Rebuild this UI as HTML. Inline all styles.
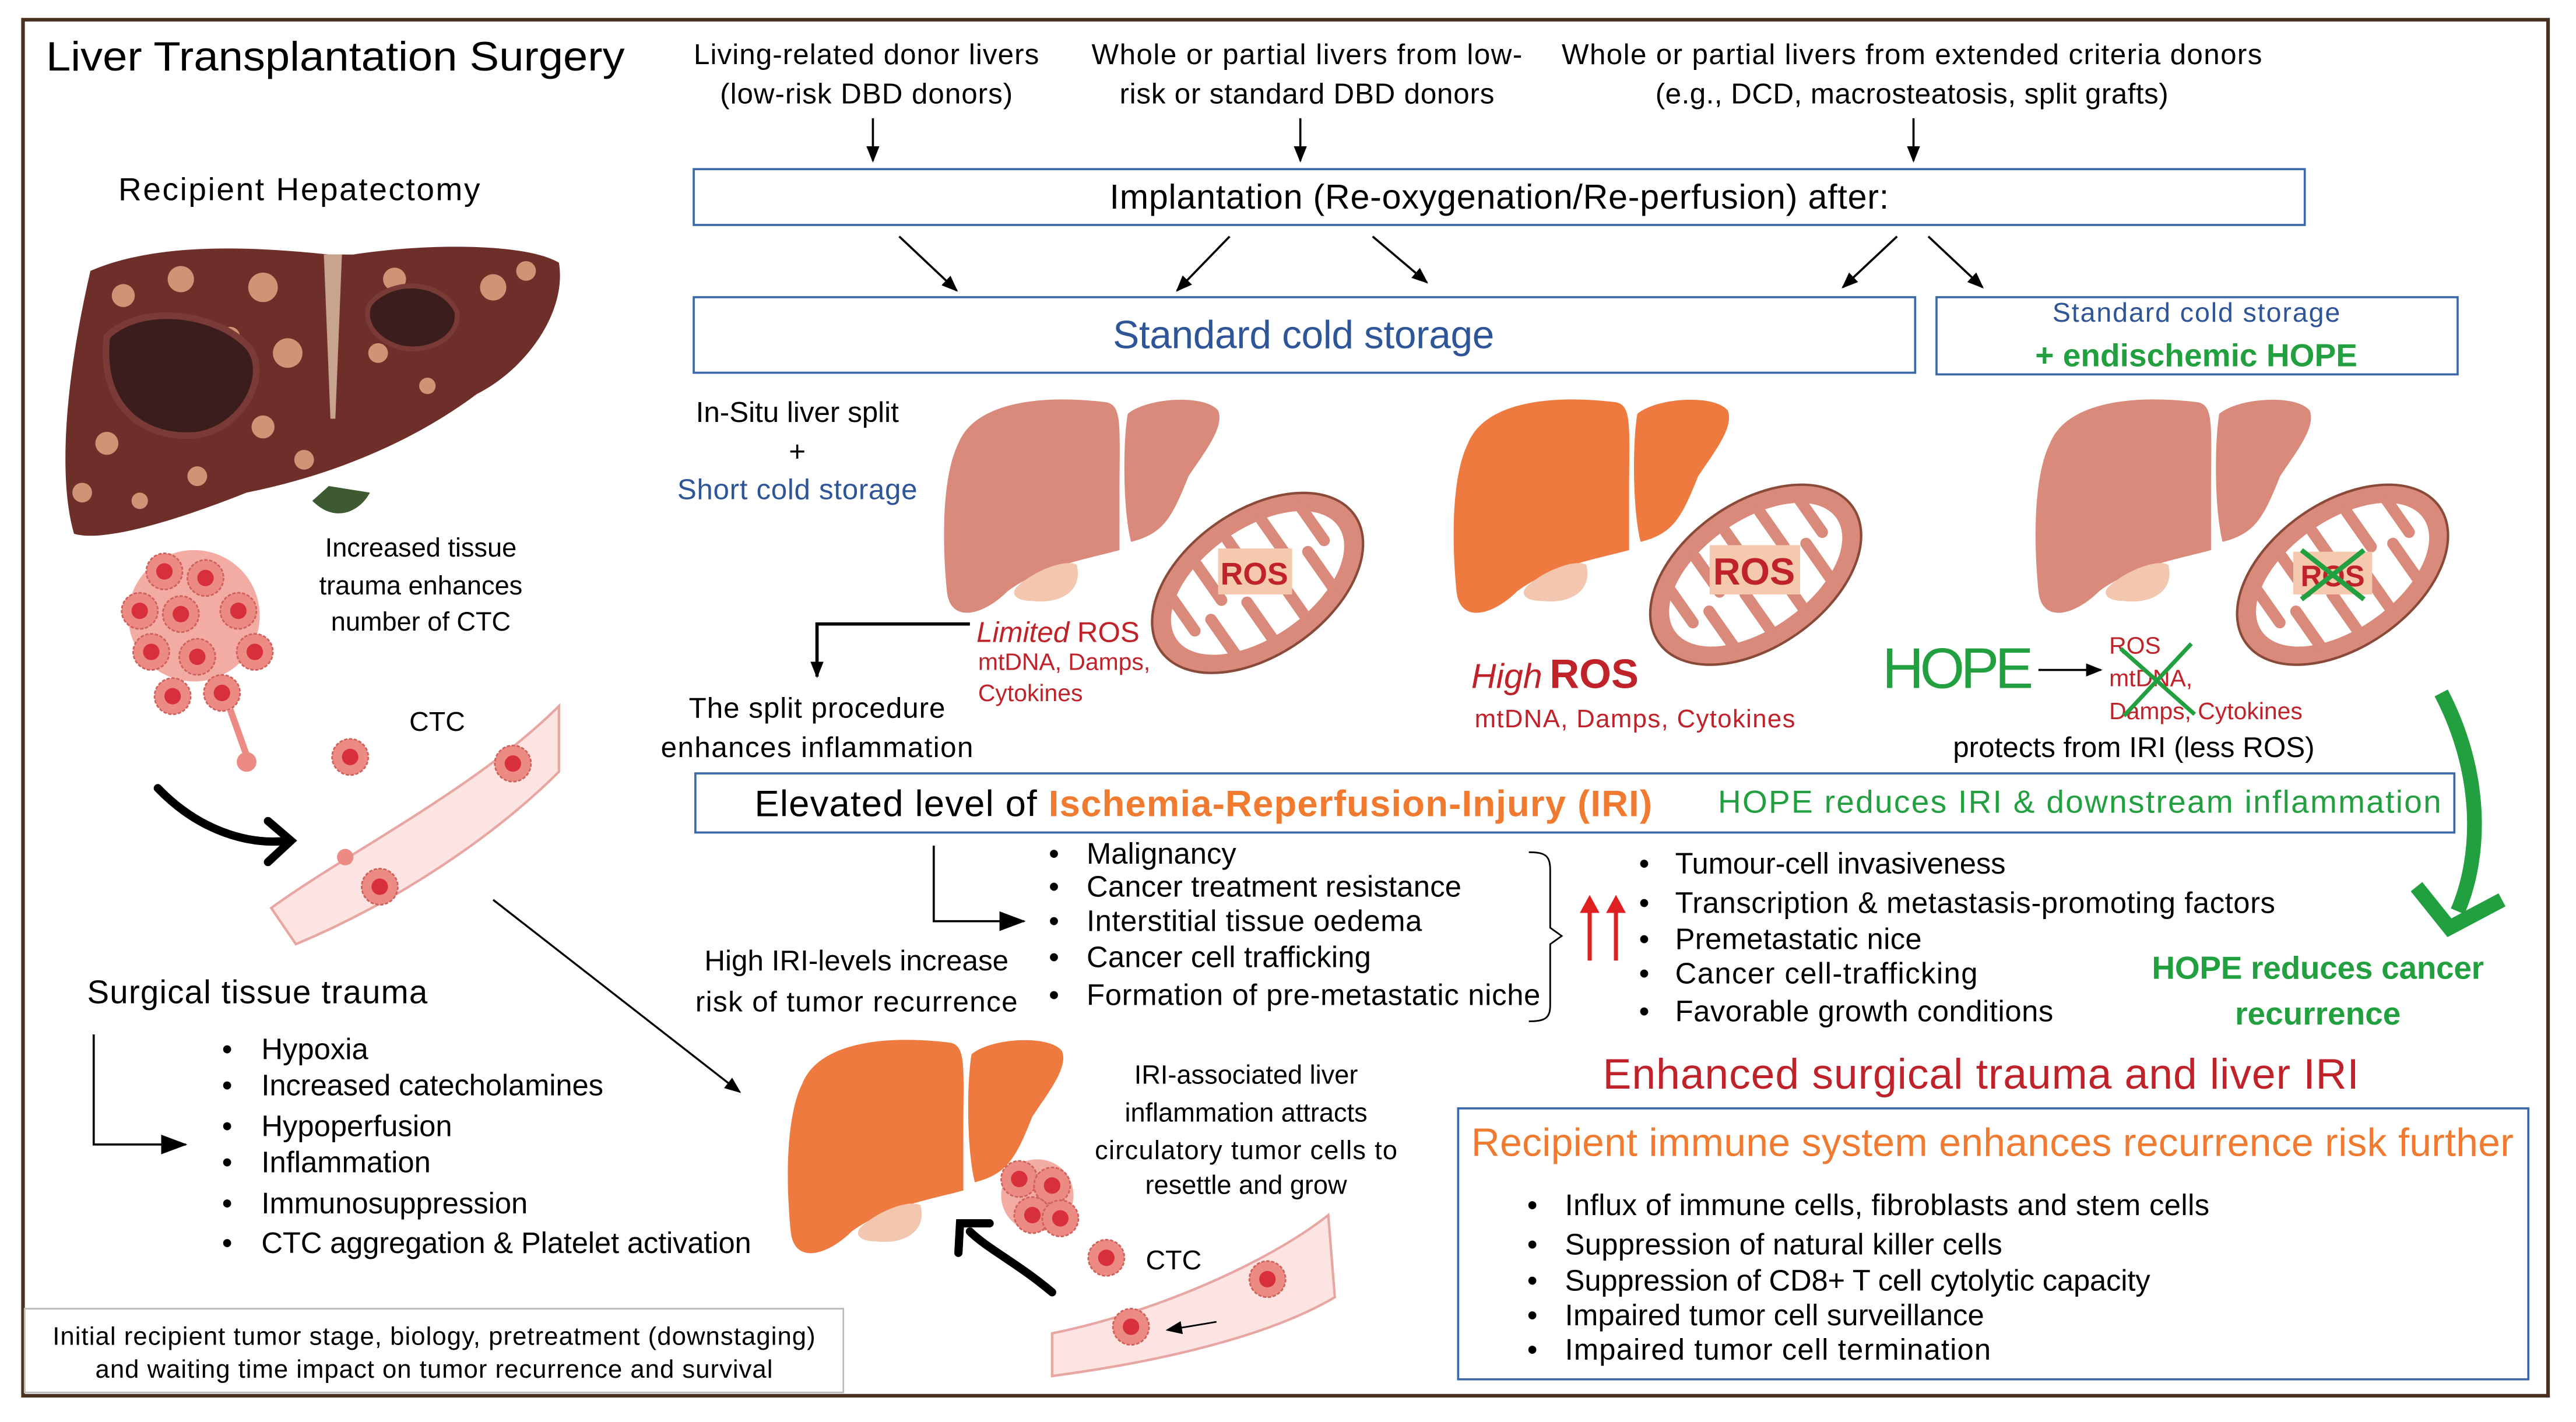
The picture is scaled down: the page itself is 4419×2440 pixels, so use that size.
<!DOCTYPE html>
<html><head><meta charset="utf-8"><style>
html,body{margin:0;padding:0;background:#fff;width:4419px;height:2440px;overflow:hidden}
svg{display:block}
text{font-family:"Liberation Sans",sans-serif}
</style></head><body>
<svg width="4419" height="2440" viewBox="0 0 1567 866" preserveAspectRatio="none" xmlns="http://www.w3.org/2000/svg">
<defs>
<marker id="ah" markerWidth="10" markerHeight="8" refX="9" refY="4" orient="auto" markerUnits="userSpaceOnUse"><path d="M0,0 L10,4 L0,8Z" fill="#000"/></marker>
<marker id="ahb" markerWidth="16" markerHeight="12" refX="15" refY="6" orient="auto" markerUnits="userSpaceOnUse"><path d="M0,0 L16,6 L0,12Z" fill="#000"/></marker>
<g id="liver">
<path d="M10,30 C20,5 60,0 100,5 C110,7 108,20 108,60 L108,95 C90,100 60,105 40,120 C25,135 5,140 3,120 C0,90 0,50 10,30 Z"/>
<path d="M113,12 C125,2 160,0 168,10 C172,20 160,35 150,50 C140,75 135,85 115,90 C110,70 110,30 113,12Z"/>
</g>
<g id="gb"><path d="M45,118 C55,108 75,100 82,104 C86,120 72,128 55,126 C45,126 42,122 45,118 Z" fill="#f3c6b0"/></g>
<g id="mito">
<ellipse cx="0" cy="0" rx="72" ry="44" fill="#d98a7a" stroke="#8a4a3a" stroke-width="1.5"/>
<ellipse cx="0" cy="0" rx="60" ry="33" fill="#fff"/>
<g stroke="#d98a7a" stroke-width="7" stroke-linecap="round">
<line x1="-48" y1="-22" x2="-48" y2="2"/><line x1="-36" y1="28" x2="-36" y2="2"/><line x1="-24" y1="-30" x2="-24" y2="-4"/><line x1="-12" y1="32" x2="-12" y2="6"/><line x1="0" y1="-32" x2="0" y2="-6"/><line x1="12" y1="32" x2="12" y2="6"/><line x1="24" y1="-30" x2="24" y2="-4"/><line x1="36" y1="28" x2="36" y2="2"/><line x1="48" y1="-22" x2="48" y2="2"/>
</g>
</g>
<g id="cell"><circle r="11" fill="#ec8a84" stroke="#d0605a" stroke-width="1" stroke-dasharray="2 1"/><circle r="5" fill="#d8303a"/></g>
</defs>
<rect x="14" y="12" width="1536" height="838" fill="none" stroke="#4a3020" stroke-width="2.2"/>
<text x="28" y="43" font-size="25" textLength="352" lengthAdjust="spacingAndGlyphs">Liver Transplantation Surgery</text>
<g font-size="17.5" text-anchor="middle">
<text x="527" y="39" textLength="210">Living-related donor livers</text><text x="527" y="63" textLength="178">(low-risk DBD donors)</text>
<text x="795" y="39" textLength="262">Whole or partial livers from low-</text><text x="795" y="63" textLength="228">risk or standard DBD donors</text>
<text x="1163" y="39" textLength="426">Whole or partial livers from extended criteria donors</text><text x="1163" y="63" textLength="312">(e.g., DCD, macrosteatosis, split grafts)</text>
</g>
<g stroke="#000" stroke-width="1.3" marker-end="url(#ah)">
<line x1="531" y1="72" x2="531" y2="98"/><line x1="791" y1="72" x2="791" y2="98"/><line x1="1164" y1="72" x2="1164" y2="98"/>
<line x1="547" y1="144" x2="582" y2="177"/><line x1="748" y1="144" x2="716" y2="177"/><line x1="835" y1="144" x2="868" y2="172"/><line x1="1154" y1="144" x2="1121" y2="175"/><line x1="1173" y1="144" x2="1206" y2="175"/>
</g>
<rect x="422" y="103" width="980" height="34" fill="none" stroke="#3b68a8" stroke-width="1.3"/>
<text x="912" y="127" font-size="21" text-anchor="middle" textLength="474">Implantation (Re-oxygenation/Re-perfusion) after:</text>
<rect x="422" y="181" width="743" height="46" fill="none" stroke="#3b68a8" stroke-width="1.3"/>
<text x="793" y="212" font-size="24" fill="#2e5597" text-anchor="middle" textLength="232">Standard cold storage</text>
<rect x="1178" y="181" width="317" height="47" fill="none" stroke="#3b68a8" stroke-width="1.3"/>
<text x="1336" y="196" font-size="16.5" fill="#2e5597" text-anchor="middle" textLength="175">Standard cold storage</text>
<text x="1336" y="223" font-size="19.5" fill="#22a040" font-weight="bold" text-anchor="middle" textLength="196">+ endischemic HOPE</text>
<text x="182" y="122" font-size="19.5" text-anchor="middle" textLength="220">Recipient Hepatectomy</text>
<!-- tumor liver -->
<path d="M55,165 C100,145 170,152 200,155 L215,155 C260,148 320,148 340,160 C345,190 320,225 290,240 C250,270 200,290 150,300 C100,320 60,330 45,325 C35,290 40,230 55,165Z" fill="#6e2f2a"/>
<path d="M190,305 C205,320 220,310 225,300 L200,296Z" fill="#3d5a30"/>
<path d="M197,155 L208,155 L204,255 L201,255Z" fill="#c8a48e"/>
<g fill="#d9a07e" opacity="0.9">
<circle cx="75" cy="180" r="7"/><circle cx="110" cy="170" r="8"/><circle cx="160" cy="175" r="9"/><circle cx="90" cy="230" r="6"/><circle cx="175" cy="215" r="9"/><circle cx="65" cy="270" r="7"/><circle cx="120" cy="290" r="6"/><circle cx="160" cy="260" r="7"/><circle cx="240" cy="170" r="7"/><circle cx="300" cy="175" r="8"/><circle cx="230" cy="215" r="6"/><circle cx="320" cy="165" r="6"/><circle cx="260" cy="235" r="5"/><circle cx="185" cy="280" r="6"/><circle cx="140" cy="205" r="6"/><circle cx="50" cy="300" r="6"/><circle cx="85" cy="305" r="5"/>
</g>
<path d="M65,205 C85,185 130,190 150,210 C165,225 150,260 120,265 C90,268 60,250 65,205Z" fill="#3a1d1c" stroke="#7a3a36" stroke-width="4"/>
<path d="M225,185 C240,168 270,172 278,190 C280,205 262,215 245,212 C228,208 220,195 225,185Z" fill="#3a1d1c" stroke="#7a3a36" stroke-width="3"/>
<!-- tumor cluster -->
<g>
<circle cx="118" cy="375" r="40" fill="#f2aca4"/>
<use href="#cell" x="100" y="348"/><use href="#cell" x="125" y="352"/><use href="#cell" x="145" y="372"/><use href="#cell" x="110" y="374"/><use href="#cell" x="92" y="397"/><use href="#cell" x="120" y="400"/><use href="#cell" x="135" y="422"/><use href="#cell" x="105" y="424"/><use href="#cell" x="155" y="397"/><use href="#cell" x="85" y="372"/>
<circle cx="150" cy="464" r="6" fill="#ec8a84"/><path d="M140,432 L150,460" stroke="#ec8a84" stroke-width="4"/>
</g>
<g font-size="16" text-anchor="middle"><text x="256" y="339">Increased tissue</text><text x="256" y="362">trauma enhances</text><text x="256" y="384">number of CTC</text></g>
<text x="249" y="445" font-size="16.5">CTC</text>
<use href="#cell" x="213" y="461"/>
<path d="M165,553 C210,520 290,480 340,430 L340,470 C300,510 240,550 180,575Z" fill="#fbe4e2" stroke="#e8a6a2" stroke-width="1.5"/>
<use href="#cell" x="312" y="465"/><use href="#cell" x="231" y="540"/><circle cx="210" cy="522" r="5" fill="#ec8a84"/>
<path d="M96,480 C120,505 150,515 175,512" fill="none" stroke="#000" stroke-width="5" stroke-linecap="round"/>
<path d="M163,500 L177,512 L163,525" fill="none" stroke="#000" stroke-width="5" stroke-linecap="round"/>
<line x1="300" y1="548" x2="450" y2="665" stroke="#000" stroke-width="1.2" marker-end="url(#ah)"/>
<text x="53" y="611" font-size="20" textLength="207">Surgical tissue trauma</text>
<path d="M57,630 L57,697 L113,697" fill="none" stroke="#000" stroke-width="1.3" marker-end="url(#ahb)"/>
<g font-size="18"><text x="135" y="645">•</text><text x="159" y="645">Hypoxia</text><text x="135" y="667">•</text><text x="159" y="667" textLength="208">Increased catecholamines</text><text x="135" y="692">•</text><text x="159" y="692">Hypoperfusion</text><text x="135" y="714">•</text><text x="159" y="714">Inflammation</text><text x="135" y="739">•</text><text x="159" y="739">Immunosuppression</text><text x="135" y="763">•</text><text x="159" y="763" textLength="298">CTC aggregation &amp; Platelet activation</text></g>
<rect x="15" y="797" width="498" height="51" fill="none" stroke="#bbb" stroke-width="1"/>
<g font-size="15.5" text-anchor="middle"><text x="264" y="819" textLength="464">Initial recipient tumor stage, biology, pretreatment (downstaging)</text><text x="264" y="839" textLength="412">and waiting time impact on tumor recurrence and survival</text></g>
<!-- livers -->
<g transform="translate(573,240)" fill="#d98a7a"><use href="#liver"/><use href="#gb"/></g>
<g transform="translate(765,355) rotate(-35)"><use href="#mito"/></g>
<rect x="741" y="334" width="45" height="28" fill="#f5c9ae"/><text x="763" y="356" font-size="19" font-weight="bold" fill="#c0222a" text-anchor="middle">ROS</text>
<g transform="translate(883,240)" fill="#ef7a3f"><use href="#liver"/><use href="#gb"/></g>
<g transform="translate(1068,350) rotate(-35)"><use href="#mito"/></g>
<rect x="1040" y="332" width="55" height="30" fill="#f5c9ae"/><text x="1067" y="356" font-size="23" font-weight="bold" fill="#c0222a" text-anchor="middle">ROS</text>
<g transform="translate(1237,240)" fill="#d98a7a"><use href="#liver"/><use href="#gb"/></g>
<g transform="translate(1425,350) rotate(-35)"><use href="#mito"/></g>
<rect x="1395" y="336" width="48" height="26" fill="#f5c9ae"/><text x="1419" y="357" font-size="18" font-weight="bold" fill="#c0222a" text-anchor="middle">ROS</text>
<path d="M1400,335 L1438,365 M1438,335 L1400,365" stroke="#22a040" stroke-width="3"/>
<g font-size="17.5" text-anchor="middle"><text x="485" y="257">In-Situ liver split</text><text x="485" y="281">+</text><text x="485" y="304" fill="#2e5597" textLength="146">Short cold storage</text>
<text x="497" y="437" textLength="156">The split procedure</text><text x="497" y="461" textLength="190">enhances inflammation</text></g>
<path d="M590,380 L497,380 L497,412" fill="none" stroke="#000" stroke-width="2" marker-end="url(#ah)"/>
<text x="594" y="391" font-size="17.5" fill="#c0222a"><tspan font-style="italic">Limited</tspan> ROS</text>
<g font-size="14.5" fill="#c0222a"><text x="595" y="408">mtDNA, Damps,</text><text x="595" y="427">Cytokines</text></g>
<text x="895" y="419" fill="#c0222a"><tspan font-size="21" font-style="italic">High</tspan> <tspan font-size="25" font-weight="bold">ROS</tspan></text>
<text x="897" y="443" font-size="15.5" fill="#c0222a" textLength="195">mtDNA, Damps, Cytokines</text>
<text x="1145" y="419" font-size="35" fill="#22a040" textLength="92">HOPE</text>
<line x1="1240" y1="408" x2="1278" y2="408" stroke="#000" stroke-width="1.3" marker-end="url(#ah)"/>
<g font-size="14.5" fill="#c0222a"><text x="1283" y="398">ROS</text><text x="1283" y="418">mtDNA,</text><text x="1283" y="438">Damps, Cytokines</text></g>
<path d="M1290,395 L1335,435 M1333,392 L1292,436" stroke="#22a040" stroke-width="2.5"/>
<text x="1298" y="461" font-size="17.5" text-anchor="middle" textLength="220">protects from IRI (less ROS)</text>
<path d="M1485,422 C1510,470 1510,520 1495,555" fill="none" stroke="#22a040" stroke-width="9"/>
<path d="M1470,540 L1490,565 L1522,548" fill="none" stroke="#22a040" stroke-width="9"/>
<rect x="423" y="471" width="1070" height="36" fill="none" stroke="#3b68a8" stroke-width="1.3"/>
<text x="459" y="497" font-size="22.5" textLength="546">Elevated level of <tspan fill="#ef7a30" font-weight="bold">Ischemia-Reperfusion-Injury (IRI)</tspan></text>
<text x="1045" y="495" font-size="19.5" fill="#22a040" textLength="440">HOPE reduces IRI &amp; downstream inflammation</text>
<path d="M568,515 L568,561 L623,561" fill="none" stroke="#000" stroke-width="1.3" marker-end="url(#ahb)"/>
<g font-size="18"><text x="638" y="526">•</text><text x="661" y="526">Malignancy</text><text x="638" y="546">•</text><text x="661" y="546" textLength="228">Cancer treatment resistance</text><text x="638" y="567">•</text><text x="661" y="567" textLength="204">Interstitial tissue oedema</text><text x="638" y="589">•</text><text x="661" y="589" textLength="173">Cancer cell trafficking</text><text x="638" y="612">•</text><text x="661" y="612" textLength="276">Formation of pre-metastatic niche</text></g>
<path d="M930,519 C940,519 943,521 943,530 L943,565 L950,570 L943,575 L943,612 C943,620 940,622 930,622" fill="none" stroke="#000" stroke-width="1"/>
<g stroke="#e02020" stroke-width="2.5"><line x1="967" y1="585" x2="967" y2="552"/><line x1="983" y1="585" x2="983" y2="552"/></g>
<path d="M961,556 L967,545 L973,556Z M977,556 L983,545 L989,556Z" fill="#e02020"/>
<g font-size="18"><text x="997" y="532">•</text><text x="1019" y="532" textLength="201">Tumour-cell invasiveness</text><text x="997" y="556">•</text><text x="1019" y="556" textLength="365">Transcription &amp; metastasis-promoting factors</text><text x="997" y="578">•</text><text x="1019" y="578" textLength="150">Premetastatic nice</text><text x="997" y="599">•</text><text x="1019" y="599" textLength="184">Cancer cell-trafficking</text><text x="997" y="622">•</text><text x="1019" y="622" textLength="230">Favorable growth conditions</text></g>
<g font-size="19.5" fill="#22a040" font-weight="bold" text-anchor="middle"><text x="1410" y="596" textLength="202">HOPE reduces cancer</text><text x="1410" y="624">recurrence</text></g>
<g font-size="17.5" text-anchor="middle"><text x="521" y="591" textLength="185">High IRI-levels increase</text><text x="521" y="616" textLength="196">risk of tumor recurrence</text></g>
<g transform="translate(478,630)" fill="#ef7a3f"><use href="#liver"/><use href="#gb"/></g>
<g font-size="16" text-anchor="middle"><text x="758" y="660">IRI-associated liver</text><text x="758" y="683">inflammation attracts</text><text x="758" y="706" textLength="184">circulatory tumor cells to</text><text x="758" y="727">resettle and grow</text></g>
<g><circle cx="631" cy="728" r="22" fill="#f2aca4"/><use href="#cell" x="620" y="718"/><use href="#cell" x="640" y="722"/><use href="#cell" x="628" y="740"/><use href="#cell" x="645" y="742"/></g>
<text x="697" y="773" font-size="16.5">CTC</text><use href="#cell" x="673" y="766"/>
<path d="M640,812 C700,800 770,770 808,740 L812,790 C770,815 700,830 640,838Z" fill="#fbe4e2" stroke="#e8a6a2" stroke-width="1.5"/>
<use href="#cell" x="771" y="779"/><use href="#cell" x="688" y="808"/>
<line x1="740" y1="805" x2="710" y2="810" stroke="#000" stroke-width="1" marker-end="url(#ah)"/>
<path d="M640,787 C620,770 600,760 590,750" fill="none" stroke="#000" stroke-width="5" stroke-linecap="round"/>
<path d="M583,763 L584,745 L602,745" fill="none" stroke="#000" stroke-width="5" stroke-linecap="round"/>
<text x="1205" y="663" font-size="26" fill="#c0222a" text-anchor="middle" textLength="460">Enhanced surgical trauma and liver IRI</text>
<rect x="887" y="675" width="651" height="165" fill="none" stroke="#3b68a8" stroke-width="1.3"/>
<text x="1212" y="704" font-size="24" fill="#ef7a30" text-anchor="middle" textLength="634">Recipient immune system enhances recurrence risk further</text>
<g font-size="18"><text x="929" y="740">•</text><text x="952" y="740" textLength="392">Influx of immune cells, fibroblasts and stem cells</text><text x="929" y="764">•</text><text x="952" y="764" textLength="266">Suppression of natural killer cells</text><text x="929" y="786">•</text><text x="952" y="786" textLength="356">Suppression of CD8+ T cell cytolytic capacity</text><text x="929" y="807">•</text><text x="952" y="807" textLength="255">Impaired tumor cell surveillance</text><text x="929" y="828">•</text><text x="952" y="828" textLength="259">Impaired tumor cell termination</text></g>
</svg>
</body></html>
